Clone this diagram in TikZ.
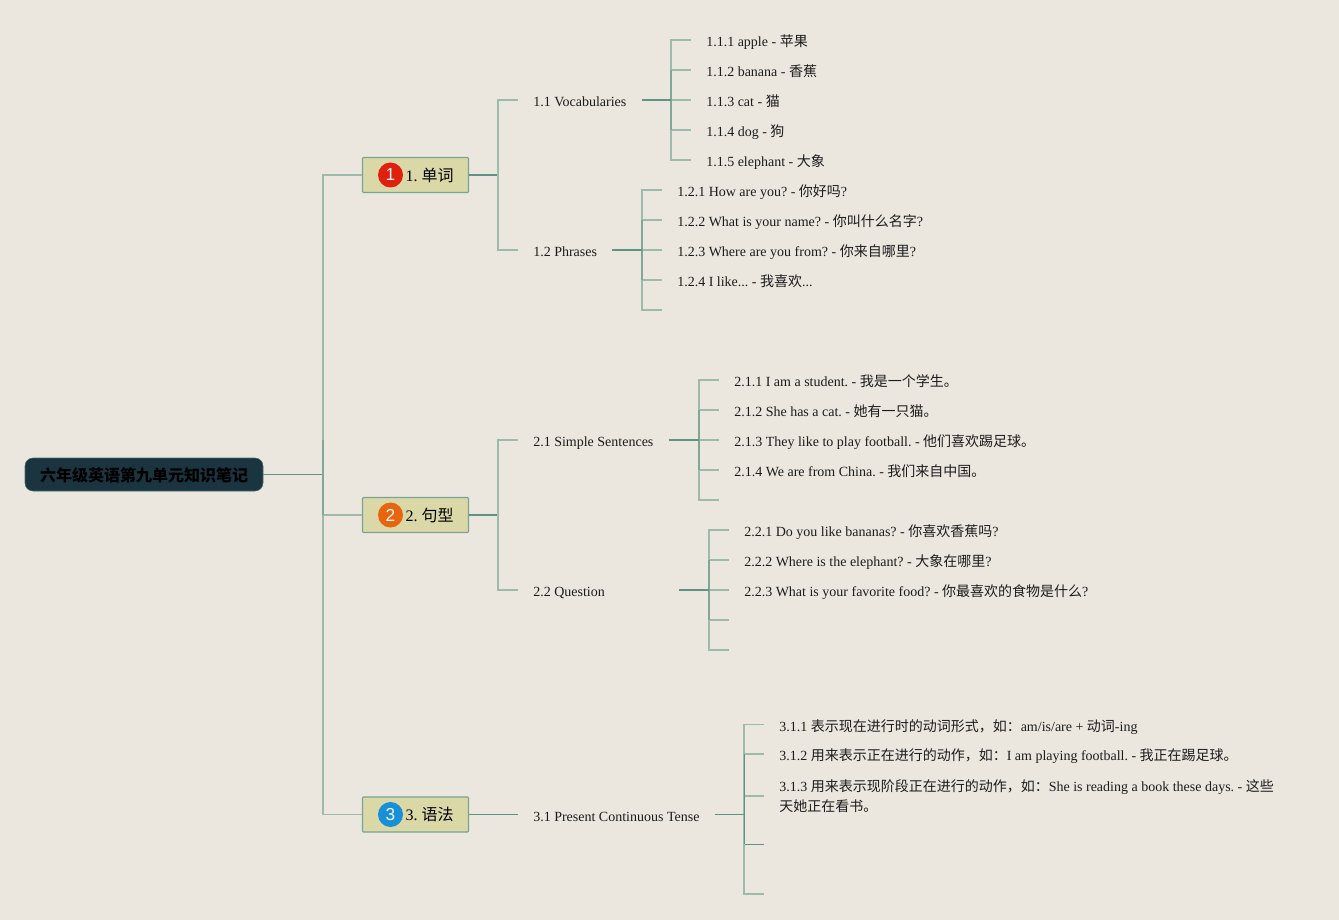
\documentclass[tikz,border=0pt]{standalone}
\usepackage{fontspec}
\setmainfont{Liberation Serif}
\setsansfont{Liberation Sans}
\newfontfamily\cjk{Noto Sans CJK SC}
\newcommand{\zh}[1]{{\cjk #1}}
\frenchspacing
\definecolor{paper}{HTML}{EBE7DF}
\definecolor{rootfill}{HTML}{1B3540}
\definecolor{boxfill}{HTML}{DBD8A8}
\definecolor{linelight}{HTML}{9DBBAB}
\definecolor{linemid}{HTML}{7FA796}
\definecolor{linedark}{HTML}{5F9484}
\definecolor{inkblack}{HTML}{1C1C1C}
\definecolor{badgered}{HTML}{E0200F}
\definecolor{badgeorange}{HTML}{E8650F}
\definecolor{badgeblue}{HTML}{1790D8}
\tikzset{
    rootbox/.style={fill=rootfill, draw=linedark!60!rootfill, rounded corners=6pt, minimum width=178.5pt, minimum height=24.75pt, inner sep=0pt, text height=11.5pt, text depth=1.5pt, font=\fontsize{12}{15}\selectfont, text=black},
    topicbox/.style={fill=boxfill, draw=linedark!85!white, line width=0.8pt, rounded corners=0.6pt, minimum width=78.75pt, minimum height=26.25pt, inner xsep=11.25pt, inner ysep=0pt, text height=11pt, text depth=1.5pt, font=\fontsize{12}{14}\selectfont, text=black},
    badge/.style={circle, minimum size=18.75pt, inner sep=0pt, text=white!70!paper, font=\sffamily\fontsize{13}{14}\selectfont},
    leafitem/.style={anchor=west, inner xsep=11.25pt, inner ysep=0pt, align=left, font=\fontsize{10.5}{15}\selectfont, text=inkblack},
    lineitem/.style={leafitem, text height=11.5pt, text depth=1.5pt},
    spine/.style={draw=linelight, line width=1pt},
    midspine/.style={draw=linemid, line width=1pt},
    stem/.style={draw=linedark, line width=1.1pt},
    thinstem/.style={draw=linedark, line width=0.7pt},
}
\begin{document}
\begin{tikzpicture}[x=0.75pt, y=-0.75pt]
    \fill[paper] (0, 0) rectangle (1339, 920);

    \node[rootbox] (root) at (144, 474.5) {\cjk\bfseries 六年级英语第九单元知识笔记};

    \node[topicbox] (t1) at (415.5, 175) {\hspace*{21pt}1. \zh{单词}};
    \node[topicbox] (t2) at (415.5, 515) {\hspace*{21pt}2. \zh{句型}};
    \node[topicbox] (t3) at (415.5, 814.5) {\hspace*{21pt}3. \zh{语法}};
    \node[badge, fill=badgered] (b1) at (390.5, 175) {1};
    \node[badge, fill=badgeorange] (b2) at (390.5, 515) {2};
    \node[badge, fill=badgeblue] (b3) at (390.5, 814.5) {3};

    \coordinate (s0) at (323, 474.5);
    \draw[thinstem] (root.east) -- (s0);
    \foreach \t in {t1, t2, t3}
        \draw[spine] (s0) |- (\t.west);
    \draw[midspine] (323, 440) -- (323, 515);

    \node[lineitem] (v11) at (518, 100) {1.1 Vocabularies};
    \node[lineitem] (v12) at (518, 250) {1.2 Phrases};
    \node[lineitem] (v21) at (518, 440) {2.1 Simple Sentences};
    \node[lineitem] (v22) at (518, 590) {2.2 Question};
    \node[lineitem] (v31) at (518, 814.5) {3.1 Present Continuous Tense};
    \coordinate (v22end) at (679, 590);

    \coordinate (s1) at (498, 175);
    \coordinate (s2) at (498, 515);
    \draw[stem] (t1.east) -- (s1);
    \draw[stem] (t2.east) -- (s2);
    \draw[spine] (s1) |- (v11.west);
    \draw[spine] (s1) |- (v12.west);
    \draw[spine] (s2) |- (v21.west);
    \draw[spine] (s2) |- (v22.west);
    \draw[thinstem] (t3.east) -- (v31.west);

    \node[lineitem] (n111) at (691, 40) {1.1.1 apple - \zh{苹果}};
    \node[lineitem] (n112) at (691, 70) {1.1.2 banana - \zh{香蕉}};
    \node[lineitem] (n113) at (691, 100) {1.1.3 cat - \zh{猫}};
    \node[lineitem] (n114) at (691, 130) {1.1.4 dog - \zh{狗}};
    \node[lineitem] (n115) at (691, 160) {1.1.5 elephant - \zh{大象}};

    \node[lineitem] (n121) at (662, 190) {1.2.1 How are you? - \zh{你好吗}?};
    \node[lineitem] (n122) at (662, 220) {1.2.2 What is your name? - \zh{你叫什么名字}?};
    \node[lineitem] (n123) at (662, 250) {1.2.3 Where are you from? - \zh{你来自哪里}?};
    \node[lineitem] (n124) at (662, 280) {1.2.4 I like... - \zh{我喜欢}...};
    \coordinate (n125) at (662, 310);

    \node[lineitem] (n211) at (719, 380) {2.1.1 I am a student. - \zh{我是一个学生。}};
    \node[lineitem] (n212) at (719, 410) {2.1.2 She has a cat. - \zh{她有一只猫。}};
    \node[lineitem] (n213) at (719, 440) {2.1.3 They like to play football. - \zh{他们喜欢踢足球。}};
    \node[lineitem] (n214) at (719, 470) {2.1.4 We are from China. - \zh{我们来自中国。}};
    \coordinate (n215) at (719, 500);

    \node[lineitem] (n221) at (729, 530) {2.2.1 Do you like bananas? - \zh{你喜欢香蕉吗}?};
    \node[lineitem] (n222) at (729, 560) {2.2.2 Where is the elephant? - \zh{大象在哪里}?};
    \node[lineitem] (n223) at (729, 590) {2.2.3 What is your favorite food? - \zh{你最喜欢的食物是什么}?};
    \coordinate (n224) at (729, 620);
    \coordinate (n225) at (729, 650);

    \node[lineitem] (n311) at (764, 724.5) {3.1.1 \zh{表示现在进行时的动词形式，如：}am/is/are + \zh{动词}-ing};
    \node[lineitem] (n312) at (764, 754) {3.1.2 \zh{用来表示正在进行的动作，如：}I am playing football. - \zh{我正在踢足球。}};
    \node[leafitem] (n313) at (764, 796) {3.1.3 \zh{用来表示现阶段正在进行的动作，如：}She is reading a book these days. - \zh{这些}\\\zh{天她正在看书。}};
    \coordinate (n314) at (764, 844);
    \coordinate (n315) at (764, 894);

    \coordinate (s11) at (671, 100);
    \coordinate (s12) at (642, 250);
    \coordinate (s21) at (699, 440);
    \coordinate (s22) at (709, 590);
    \coordinate (s31) at (744, 814.5);

    \foreach \n in {111, 112, 113, 114, 115}
        \draw[spine] (s11) |- (n\n.west);
    \foreach \n in {121, 122, 123, 124}
        \draw[spine] (s12) |- (n\n.west);
    \draw[spine] (s12) |- (n125);
    \foreach \n in {211, 212, 213, 214}
        \draw[spine] (s21) |- (n\n.west);
    \draw[spine] (s21) |- (n215);
    \foreach \n in {221, 222, 223}
        \draw[spine] (s22) |- (n\n.west);
    \draw[spine] (s22) |- (n224);
    \draw[spine] (s22) |- (n225);
    \foreach \n in {311, 312, 313}
        \draw[spine] (s31) |- (n\n.west);
    \draw[thinstem] (s31) |- (n314);
    \draw[spine] (s31) |- (n315);

    \draw[midspine] (671, 70) -- (671, 130);
    \draw[midspine] (642, 220) -- (642, 280);
    \draw[midspine] (699, 410) -- (699, 470);
    \draw[midspine] (709, 560) -- (709, 620);
    \draw[thinstem] (744, 754) -- (744, 844);

    \draw[stem] (v11.east) -- (s11);
    \draw[stem] (v12.east) -- (s12);
    \draw[stem] (v21.east) -- (s21);
    \draw[stem] (v22end) -- (s22);
    \draw[thinstem] (v31.east) -- (s31);
\end{tikzpicture}
\end{document}
